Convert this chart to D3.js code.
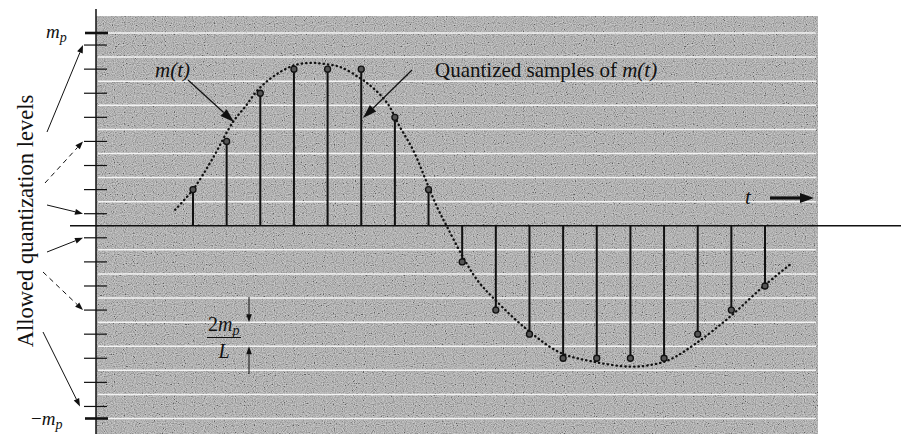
<!DOCTYPE html>
<html>
<head>
<meta charset="utf-8">
<script src="https://cdn.jsdelivr.net/npm/d3@7"></script>
<style>
  body { margin: 0; background: #fff; }
  svg { display: block; }
  text { font-family: "Liberation Serif", "DejaVu Serif", serif; fill: #111; }
</style>
</head>
<body>
<script>
const w = 901
const h = 434

// Values are in units of m_p / 16 (L = 16 levels, spacing 2m_p/L)
// Quantized sample value for every sampling instant 0..17
const sampleLevels = [3, 7, 11, 13, 13, 13, 9, 3, -3, -7, -9, -11, -11, -11, -11, -9, -7, -5]

// m(t): time in sampling periods, value in m_p/16
const curveT = [-0.53, 0, 0.56, 1.19, 1.55, 1.93, 2.44, 3.03, 3.54, 3.92, 4.37, 4.96, 5.35, 5.77,
  6.15, 6.54, 6.95, 7.25, 7.55, 8.02, 8.44, 8.97, 9.93, 10.91, 11.89, 12.99, 13.67, 14.18,
  14.98, 15.96, 16.94, 17.74]
const curveV = [1.33, 3.0, 5.47, 8.62, 9.87, 11.28, 12.5, 13.34, 13.52, 13.42, 13.18, 12.27, 11.44, 10.2,
  8.2, 6.3, 3.57, 1.57, -0.08, -2.58, -4.48, -6.13, -8.62, -10.53, -11.28, -11.7, -11.52, -11.1,
  -9.7, -7.55, -5.06, -3.23]

// Allowed quantization levels (ticks) and decision boundaries (white lines)
const levels = [-15, -13, -11, -9, -7, -5, -3, -1, 1, 3, 5, 7, 9, 11, 13, 15]
const boundaries = [-16, -14, -12, -10, -8, -6, -4, -2, 2, 4, 6, 8, 10, 12, 14, 16]
const peakLevels = [16, -16]
// levels the "Allowed quantization levels" arrows point at
const pointedLevels = [15, 7, 1, -1, -7, -15]
const pointedDashed = [false, true, false, false, true, false]

const svg = d3.select("body")
              .append("svg")
              .attr("width", w)
              .attr("height", h)

const x = d3.scaleLinear().domain([0, 17]).range([193, 765])
const y = d3.scaleLinear().domain([-16, 16]).range([418.5, 33])

const axisX = 96
const plotRight = 818

// grainy grey background, like the printed halftone
const defs = svg.append("defs")
const grain = defs.append("filter").attr("id", "grain")
  .attr("x", 0).attr("y", 0).attr("width", 1).attr("height", 1)
grain.append("feTurbulence")
  .attr("type", "fractalNoise").attr("baseFrequency", 0.9)
  .attr("numOctaves", 1).attr("seed", 7)
grain.append("feColorMatrix").attr("type", "matrix")
  .attr("values", "0.33 0.33 0.33 0 0 0.33 0.33 0.33 0 0 0.33 0.33 0.33 0 0 0 0 0 0 1")
const ct = grain.append("feComponentTransfer")
;["feFuncR", "feFuncG", "feFuncB"].forEach(f => {
  ct.append(f).attr("type", "linear").attr("slope", 3.6).attr("intercept", -1.2)
})

svg.append("rect")
   .attr("x", axisX).attr("y", 16)
   .attr("width", plotRight - axisX).attr("height", h - 16)
   .attr("fill", "#a2a2a2")

svg.append("rect")
   .attr("x", axisX).attr("y", 16)
   .attr("width", plotRight - axisX).attr("height", h - 16)
   .attr("filter", "url(#grain)")
   .attr("opacity", 0.42)

// white decision boundaries
svg.append("g")
   .selectAll("line")
   .data(boundaries)
   .enter()
   .append("line")
   .attr("x1", axisX + 2).attr("x2", plotRight - 2)
   .attr("y1", d => y(d)).attr("y2", d => y(d))
   .attr("stroke", "#fff")
   .attr("stroke-opacity", 0.85)
   .attr("stroke-width", 1.5)

// axes
svg.append("line")
   .attr("x1", axisX).attr("x2", axisX)
   .attr("y1", 9).attr("y2", h)
   .attr("stroke", "#111").attr("stroke-width", 1.5)

svg.append("line")
   .attr("x1", 70).attr("x2", w)
   .attr("y1", y(0)).attr("y2", y(0))
   .attr("stroke", "#111").attr("stroke-width", 1.6)

// level ticks across the vertical axis
svg.append("g")
   .selectAll("line")
   .data(levels)
   .enter()
   .append("line")
   .attr("x1", 84).attr("x2", 107)
   .attr("y1", d => y(d)).attr("y2", d => y(d))
   .attr("stroke", "#111").attr("stroke-width", 1.2)

svg.append("g")
   .selectAll("line")
   .data(peakLevels)
   .enter()
   .append("line")
   .attr("x1", 85).attr("x2", 108)
   .attr("y1", d => y(d)).attr("y2", d => y(d))
   .attr("stroke", "#111").attr("stroke-width", 2.6)

// m(t), dotted
const curveData = curveT.map((t, i) => [t, curveV[i]])
const line = d3.line()
               .x(d => x(d[0]))
               .y(d => y(d[1]))
               .curve(d3.curveCatmullRom)

svg.append("path")
   .attr("d", line(curveData))
   .attr("fill", "none")
   .attr("stroke", "#111")
   .attr("stroke-width", 2.3)
   .attr("stroke-linecap", "round")
   .attr("stroke-dasharray", "0.4,4")

// quantized samples: stems and dots
const stems = svg.append("g")
                 .selectAll("g")
                 .data(sampleLevels)
                 .enter()
                 .append("g")

stems.append("line")
     .attr("x1", (d, i) => x(i)).attr("x2", (d, i) => x(i))
     .attr("y1", y(0)).attr("y2", d => y(d))
     .attr("stroke", "#111").attr("stroke-width", 2)

stems.append("circle")
     .attr("cx", (d, i) => x(i))
     .attr("cy", d => y(d))
     .attr("r", 3)
     .attr("fill", "#555")
     .attr("stroke", "#111")
     .attr("stroke-width", 1.3)

// arrow helper: line from (x1,y1) to tip (x2,y2) with a filled head
const arrow = (x1, y1, x2, y2, opt) => {
  const o = Object.assign({ len: 8, half: 3, width: 1, dash: null }, opt)
  const a = Math.atan2(y2 - y1, x2 - x1)
  const bx = x2 - o.len * Math.cos(a)
  const by = y2 - o.len * Math.sin(a)
  const px = -Math.sin(a) * o.half
  const py = Math.cos(a) * o.half
  const g = svg.append("g")
  g.append("line")
   .attr("x1", x1).attr("y1", y1)
   .attr("x2", bx).attr("y2", by)
   .attr("stroke", "#111").attr("stroke-width", o.width)
   .attr("stroke-dasharray", o.dash)
  g.append("path")
   .attr("d", `M${x2},${y2}L${bx + px},${by + py}L${bx - px},${by - py}Z`)
   .attr("fill", "#111")
}

// "Allowed quantization levels" pointers
const starts = [[47, 132], [45, 183], [47, 205], [47, 252], [43, 272], [43, 332]]
pointedLevels.forEach((lv, i) => {
  const tipX = 83 - (i === 5 ? 3 : 0)
  arrow(starts[i][0], starts[i][1], tipX, y(lv),
        { len: 8, half: 3, width: 1, dash: pointedDashed[i] ? "5,4" : null })
})

svg.append("text")
   .attr("transform", "translate(33, 221) rotate(-90)")
   .attr("text-anchor", "middle")
   .style("font-size", "22.5px")
   .text("Allowed quantization levels")

// m_p labels
const mpLabel = (xx, yy, minus) => {
  const t = svg.append("text")
               .attr("x", xx).attr("y", yy)
               .style("font-size", "19px")
  if (minus) t.append("tspan").text("\u2212")
  t.append("tspan").style("font-style", "italic").text("m")
  t.append("tspan").style("font-style", "italic")
   .style("font-size", "14px").attr("dy", 4).text("p")
}
mpLabel(46, y(16) + 5, false)
mpLabel(31, y(-16) + 6, true)

// m(t) label and pointer
svg.append("text")
   .attr("x", 155).attr("y", 77)
   .style("font-size", "21px")
   .style("font-style", "italic")
   .text("m(t)")
arrow(188, 80, 234, 122, { len: 14, half: 4.5, width: 1.2 })

// quantized samples label and pointer
const qs = svg.append("text")
              .attr("x", 435).attr("y", 77)
              .style("font-size", "21px")
qs.append("tspan").text("Quantized samples of ")
qs.append("tspan").style("font-style", "italic").text("m(t)")
arrow(412, 70, 363, 118, { len: 14, half: 4.5, width: 1.2 })

// time axis label
svg.append("text")
   .attr("x", 745).attr("y", 204)
   .style("font-size", "21px")
   .style("font-style", "italic")
   .text("t")
arrow(770, 198, 814, 198, { len: 14, half: 5, width: 3.2 })

// step size 2m_p / L
const num = svg.append("text")
               .attr("x", 208).attr("y", 331)
               .style("font-size", "20px")
num.append("tspan").text("2")
num.append("tspan").style("font-style", "italic").text("m")
num.append("tspan").style("font-style", "italic")
   .style("font-size", "14px").attr("dy", 4).text("p")

svg.append("line")
   .attr("x1", 207).attr("x2", 241)
   .attr("y1", 337.5).attr("y2", 337.5)
   .attr("stroke", "#111").attr("stroke-width", 1.2)

svg.append("text")
   .attr("x", 224).attr("y", 358)
   .attr("text-anchor", "middle")
   .style("font-size", "20px")
   .style("font-style", "italic")
   .text("L")

arrow(249, 297, 249, y(-8), { len: 8, half: 2.8, width: 1 })
arrow(249, 374, 249, y(-10), { len: 8, half: 2.8, width: 1 })
</script>
</body>
</html>
